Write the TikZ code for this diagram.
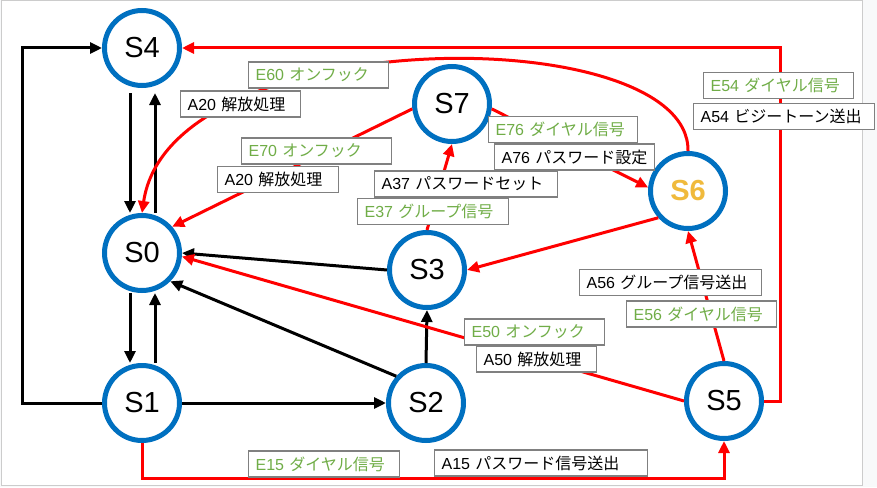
\documentclass[tikz,border=0pt]{standalone}
\usepackage{fontspec}
\setmainfont{Liberation Sans}
\newfontfamily\jpfont{Noto Sans CJK JP}
\usetikzlibrary{arrows.meta}
\definecolor{SBlue} {HTML}{0070C0}
\definecolor{ERed}  {HTML}{FF0000}
\definecolor{EGreen}{HTML}{70AD47}
\definecolor{SGold} {HTML}{F0BA3C}
\definecolor{BGray} {HTML}{808080}
\definecolor{FGray} {HTML}{CCCCCC}
\definecolor{OutF}  {HTML}{F8F9FA}
\newcommand{\lab}[2]{\mbox{#1 {\jpfont #2}}}
\tikzset{
  st/.style={
    circle, draw=SBlue, fill=white, line width=5pt,
    minimum size=75pt, inner sep=0pt,
    font=\fontsize{29}{30}\selectfont,
  },
  lbl/.style args={#1/#2}{
    rectangle, draw=BGray, fill=white, text=#1,
    line width=1.2pt, anchor=west, align=left,
    text width=#2, inner xsep=7pt, inner ysep=0pt,
    minimum height=26pt, font=\fontsize{16}{19}\selectfont,
  },
  arr/.style={
    -{Triangle[length=12pt,width=11pt]},
    line width=3pt, color=#1,
  },
}
\begin{document}
\begin{tikzpicture}[x=1pt,y=-1pt]
  \useasboundingbox (0,0) rectangle (877,487);
  \fill[OutF] (0,0) rectangle (877,487);
  \draw[FGray, fill=white, line width=1pt] (1,1) rectangle (862,485);
  % states
  \node[st] (s4) at (142,48)  {S4};
  \node[st] (s0) at (142,253) {S0};
  \node[st] (s1) at (142,403) {S1};
  \node[st] (s2) at (426,403) {S2};
  \node[st] (s3) at (427,270) {S3};
  \node[st] (s7) at (452,104) {S7};
  \node[st, text=SGold, font=\fontsize{29}{30}\selectfont\bfseries] (s6) at (688,191) {S6};
  \node[st] (s5) at (724,401) {S5};
  % black transitions
  \draw[arr=black] (s1.west) -- ++(-80,0) |- (s4.west);
  \draw[arr=black] ([shift={(-12,5)}]s4.south) -- ([xshift=-12pt]s0.north);
  \draw[arr=black] ([xshift=13pt]s0.north) -- ([shift={(13,5)}]s4.south);
  \draw[arr=black] ([xshift=-12pt]s0.south) -- ([xshift=-12pt]s1.north);
  \draw[arr=black] ([xshift=13pt]s1.north) -- ([xshift=13pt]s0.south);
  \draw[arr=black] (s1.east) -- (s2.west);
  \draw[arr=black] (s2.138) -- (s0.-45);
  \draw[arr=black] (s3.west) -- (s0.east);
  \draw[arr=black] (s2.north) -- (s3.south);
  % red transitions
  \draw[arr=ERed] (s5.east) -- ++(16,0) |- (s4.east);
  \draw[arr=ERed] (s1.south) -- ++(0,35) -| (s5.south);
  \draw[arr=ERed] (s6.north) .. controls (690,20) and (170,20) .. (s0.north);
  \draw[arr=ERed] (s7.187) -- (s0.41);
  \draw[arr=ERed] (s3.north) -- (s7.south);
  \draw[arr=ERed] (s7.-7) -- (s6.175);
  \draw[arr=ERed] (s6.222) -- (s3.east);
  \draw[arr=ERed] (s5.north) -- (s6.south);
  \draw[arr=ERed] (s5.west) -- (s0.-5);
  % event / action labels
  \node[lbl=EGreen/126pt] (e60)  at (248,75)    {\lab{E60}{オンフック}};
  \node[lbl=black/106pt]  (a20a) at (180,104)   {\lab{A20}{解放処理}};
  \node[lbl=EGreen/136pt] (e70)  at (241,151)   {\lab{E70}{オンフック}};
  \node[lbl=black/107pt]  (a20b) at (217,179.5) {\lab{A20}{解放処理}};
  \node[lbl=black/169pt]  (a37)  at (374,184)   {\lab{A37}{パスワードセット}};
  \node[lbl=EGreen/137pt] (e37)  at (357,211.5) {\lab{E37}{グループ信号}};
  \node[lbl=EGreen/135pt] (e76)  at (488,129.5) {\lab{E76}{ダイヤル信号}};
  \node[lbl=black/146pt]  (a76)  at (494,157)   {\lab{A76}{パスワード設定}};
  \node[lbl=EGreen/136pt] (e54)  at (703,85.5)  {\lab{E54}{ダイヤル信号}};
  \node[lbl=black/167pt]  (a54)  at (693,116.5) {\lab{A54}{ビジートーン送出}};
  \node[lbl=black/168pt]  (a56)  at (579,282.5) {\lab{A56}{グループ信号送出}};
  \node[lbl=EGreen/136pt] (e56)  at (626,314)   {\lab{E56}{ダイヤル信号}};
  \node[lbl=EGreen/126pt] (e50)  at (464,332)   {\lab{E50}{オンフック}};
  \node[lbl=black/106pt]  (a50)  at (476,359)   {\lab{A50}{解放処理}};
  \node[lbl=EGreen/137pt] (e15)  at (248,464)   {\lab{E15}{ダイヤル信号}};
  \node[lbl=black/199pt]  (a15)  at (434,463)   {\lab{A15}{パスワード信号送出}};
\end{tikzpicture}
\end{document}
